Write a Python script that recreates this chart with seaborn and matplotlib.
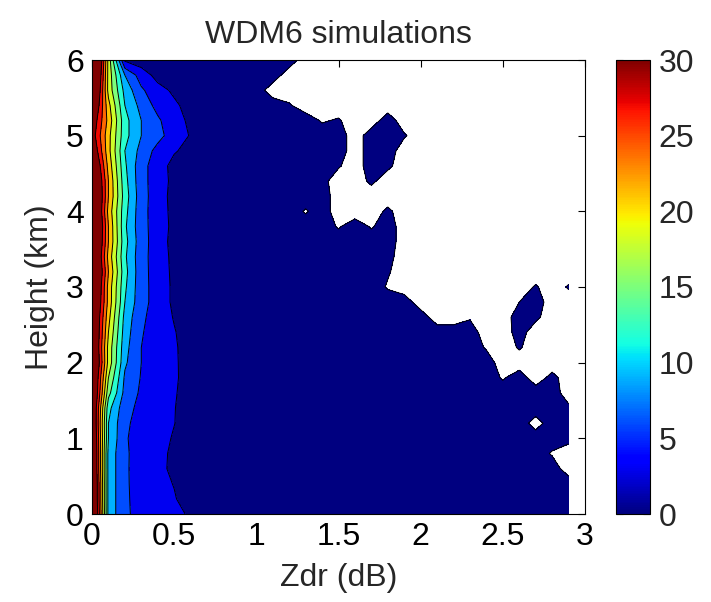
import numpy as np
import matplotlib
matplotlib.use("Agg")
import matplotlib.pyplot as plt
import seaborn as sns
from matplotlib.colors import ListedColormap, BoundaryNorm, Normalize
from matplotlib.cm import ScalarMappable

# ---------------- data ----------------
zdr = [0.0, 0.1, 0.2, 0.3, 0.4, 0.5, 0.6, 0.7, 0.8, 0.9,
       1.0, 1.1, 1.2, 1.3, 1.4, 1.5, 1.6, 1.7, 1.8, 1.9,
       2.0, 2.1, 2.2, 2.3, 2.4, 2.5, 2.6, 2.7, 2.8, 2.9]

heights = [6.0, 5.8, 5.6, 5.4, 5.2, 5.0, 4.8, 4.6, 4.4, 4.2,
           4.0, 3.8, 3.6, 3.4, 3.2, 3.0, 2.8, 2.6, 2.4, 2.2,
           2.0, 1.8, 1.6, 1.4, 1.2, 1.0, 0.8, 0.6, 0.4, 0.2, 0.0]

# frequency (%) at Zdr = 0.0 .. 0.6 dB, one row per height (top to bottom)
core_freq = [
    [45, 20, 2.5, 1.5, 1.2, 1.0, 1.0],
    [42, 20, 9.0, 4.5, 2.0, 1.5, 1.2],
    [40, 20, 11.0, 6.5, 4.0, 2.5, 1.5],
    [36, 22, 12.0, 8.0, 5.0, 3.5, 2.0],
    [33, 23, 13.0, 9.0, 6.5, 4.0, 2.5],
    [32, 22, 13.0, 9.0, 7.0, 4.5, 2.8],
    [34, 22, 12.0, 8.0, 5.0, 3.3, 2.0],
    [37, 23, 12.5, 7.0, 4.5, 2.0, 1.5],
    [39, 24, 13.0, 7.0, 4.5, 2.2, 1.5],
    [40, 24, 13.5, 7.2, 4.4, 2.0, 1.4],
    [40, 23, 13.0, 7.0, 4.5, 2.1, 1.5],
    [41, 24, 12.5, 7.0, 4.6, 2.2, 1.5],
    [40, 24, 13.0, 7.2, 4.5, 2.0, 1.4],
    [39, 23, 12.5, 7.0, 4.6, 2.2, 1.5],
    [40, 24, 13.0, 7.0, 4.7, 2.3, 1.5],
    [39, 23, 12.5, 7.0, 4.8, 2.4, 1.5],
    [38, 23, 12.0, 7.0, 4.8, 2.4, 1.5],
    [37, 22, 11.0, 6.5, 4.8, 2.8, 1.5],
    [37, 21, 10.5, 6.2, 4.8, 3.2, 1.5],
    [37, 20, 10.0, 6.0, 4.6, 3.4, 1.6],
    [38, 20, 9.5, 6.0, 4.5, 3.5, 1.5],
    [37, 18, 8.5, 5.8, 4.5, 3.5, 1.6],
    [37, 16, 8.0, 5.5, 4.2, 3.3, 1.6],
    [36, 13, 7.0, 5.2, 4.0, 3.1, 1.8],
    [36, 12, 6.5, 5.0, 4.0, 3.05, 2.0],
    [37, 12, 6.3, 4.8, 3.8, 2.8, 1.8],
    [38, 11, 6.5, 4.6, 3.6, 2.6, 1.6],
    [38, 11, 6.5, 4.5, 3.5, 2.6, 1.5],
    [39, 11, 6.5, 4.6, 3.8, 2.9, 1.7],
    [39, 11, 6.5, 4.8, 4.0, 3.2, 1.8],
    [40, 11, 6.5, 5.0, 4.2, 3.8, 2.6],
]

# Zdr = 0.7 .. 2.9 dB: '#' = 1 %, '.' = 0 % (no data), digit d = d/10 %
tail_pattern = [
    "######.................",
    "#####..................",
    "####...................",
    "#####6.................",
    "#######46..#...........",
    "#########.##6..........",
    "#########.##...........",
    "########6.#7...........",
    "#######8..7............",
    "########...............",
    "######4#...7...........",
    "########4#4#...........",
    "############...........",
    "###########8...........",
    "###########6...........",
    "###########4........6.6",
    "#############......5#..",
    "##############..4..#7..",
    "#################..9...",
    "#################4.6...",
    "##################.....",
    "##################4#.8.",
    "######################.",
    "######################7",
    "####################1##",
    "######################8",
    "#####################4.",
    "######################.",
    "#######################",
    "#######################",
    "#######################",
]

levels = [0.5, 3, 6, 9, 12, 15, 18, 21, 24, 27, 30]
cbar_ticks = [0, 5, 10, 15, 20, 25, 30]
xticks = [0, 0.5, 1, 1.5, 2, 2.5, 3]
xtick_labels = ["0", "0.5", "1", "1.5", "2", "2.5", "3"]
yticks = [0, 1, 2, 3, 4, 5, 6]

# ---------------- build grid ----------------
code = {"#": 1.0, ".": 0.0}
code.update({str(d): d / 10 for d in range(1, 10)})
Z = np.array([list(c) + [code[ch] for ch in t] for c, t in zip(core_freq, tail_pattern)], dtype=float)
X = np.array(zdr)
Y = np.array(heights)[::-1]
Z = Z[::-1]

# ---------------- style ----------------
sns.set_style("white")
plt.rcParams["font.family"] = ["Liberation Sans", "DejaVu Sans"]
plt.rcParams["font.size"] = 23

jet = matplotlib.colormaps["jet"]
band_colors = [jet(i / 10) for i in range(10)]
band_cmap = ListedColormap(band_colors)
band_cmap.set_over(jet(1.0))
band_norm = BoundaryNorm(levels, band_cmap.N)

fig = plt.figure(figsize=(7.11, 6.02), dpi=100)
ax = fig.add_axes([92 / 711, 88 / 602, 493 / 711, 454 / 602])

ax.contourf(X, Y, Z, levels=levels, cmap=band_cmap, norm=band_norm, extend="max")
ax.contour(X, Y, Z, levels=levels, colors="black", linewidths=0.7)

ax.set_xlim(0, 3)
ax.set_ylim(0, 6)
ax.set_xticks(xticks)
ax.set_xticklabels(xtick_labels)
ax.set_yticks(yticks)
ax.tick_params(direction="in", length=5, width=0.8, top=True, right=True,
               labelsize=23, pad=6, colors="black")
for s in ax.spines.values():
    s.set_visible(True)
    s.set_color("black")
    s.set_linewidth(0.8)
ax.set_xlabel("Zdr (dB)", fontsize=23, labelpad=8)
ax.set_ylabel("Height (km)", fontsize=23, labelpad=8)
ax.set_title("WDM6 simulations", fontsize=23, pad=12)

cax = fig.add_axes([616 / 711, 88 / 602, 34 / 711, 454 / 602])
sm = ScalarMappable(norm=Normalize(0, 30), cmap=jet)
cb = fig.colorbar(sm, cax=cax, ticks=cbar_ticks)
cb.outline.set_edgecolor("black")
cb.outline.set_linewidth(0.8)
cax.tick_params(direction="in", length=5, width=0.8, left=True, right=True,
                labelsize=23, pad=6)

fig.savefig("out.png", dpi=100)
